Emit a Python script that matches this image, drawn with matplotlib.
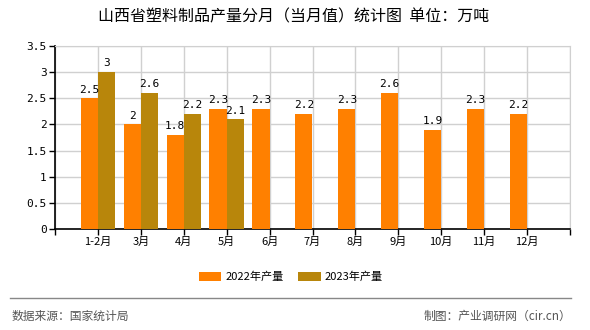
import numpy as np
import matplotlib
matplotlib.use('Agg')
import matplotlib.pyplot as plt
from matplotlib.lines import Line2D

plt.rcParams['font.family'] = ['Noto Sans CJK SC', 'DejaVu Sans']

# ── данные ─────────────────────────────────────────────
months = ['1-2月', '3月', '4月', '5月', '6月', '7月', '8月', '9月',
          '10月', '11月', '12月']
prod_2022 = [2.5, 2.0, 1.8, 2.3, 2.3, 2.2, 2.3, 2.6, 1.9, 2.3, 2.2]
prod_2023 = [3.0, 2.6, 2.2, 2.1]
labels_2022 = ['2.5', '2', '1.8', '2.3', '2.3', '2.2', '2.3', '2.6', '1.9', '2.3', '2.2']
labels_2023 = ['3', '2.6', '2.2', '2.1']

c22 = '#FF8000'
c23 = '#B8860B'

fig = plt.figure(figsize=(5.9, 3.3), dpi=100)
ax = fig.add_axes([55 / 590, 1 - 229 / 330, (570 - 55) / 590, (229 - 46) / 330])

x22 = np.arange(len(prod_2022))
x23 = np.arange(len(prod_2023))
w = 0.4
ax.bar(x22 - w / 2, prod_2022, w, color=c22, label='2022年产量', zorder=3)
ax.bar(x23 + w / 2, prod_2023, w, color=c23, label='2023年产量', zorder=3)

for x, v, s in zip(x22, prod_2022, labels_2022):
    ax.text(x - w / 2, v + 0.07, s, ha='center', va='bottom', fontsize=8,
            family='DejaVu Sans Mono')
for x, v, s in zip(x23, prod_2023, labels_2023):
    ax.text(x + w / 2, v + 0.07, s, ha='center', va='bottom', fontsize=8,
            family='DejaVu Sans Mono')

ax.set_xlim(-1, 11)
ax.set_ylim(0, 3.5)
ax.set_yticks(np.arange(0, 3.51, 0.5))
ax.set_yticklabels(['0', '0.5', '1', '1.5', '2', '2.5', '3', '3.5'],
                   family='DejaVu Sans Mono', fontsize=8)
ax.set_xticks(np.arange(-1, 12))
ax.set_xticklabels([''] + months + [''], fontsize=8)
ax.tick_params(axis='both', length=4, width=1, color='black', pad=2)
ax.grid(True, color='#D0D0D0', linewidth=1, zorder=0)
ax.set_axisbelow(True)
for s in ['top', 'right']:
    ax.spines[s].set_color('#D0D0D0')
for s in ['left', 'bottom']:
    ax.spines[s].set_color('black')
    ax.spines[s].set_linewidth(1.2)

fig.text(294 / 590, 1 - 17 / 330, '山西省塑料制品产量分月（当月值）统计图  单位：万吨',
         ha='center', va='center', fontsize=11.5)

fig.legend(loc='center', bbox_to_anchor=(291 / 590, 1 - 277 / 330), ncol=2,
           frameon=False, fontsize=8, handlelength=2.0, handleheight=0.9,
           columnspacing=1.3, handletextpad=0.4)

fig.add_artist(Line2D([10 / 590, 571 / 590], [1 - 298 / 330, 1 - 298 / 330],
                      color='#888888', linewidth=1, transform=fig.transFigure))
fig.text(12 / 590, 1 - 316 / 330, '数据来源：国家统计局', ha='left', va='center',
         fontsize=8.5, color='#555555')
fig.text(571 / 590, 1 - 316 / 330, '制图：产业调研网（cir.cn）', ha='right',
         va='center', fontsize=8.5, color='#555555')

fig.savefig('out.png', dpi=100)
